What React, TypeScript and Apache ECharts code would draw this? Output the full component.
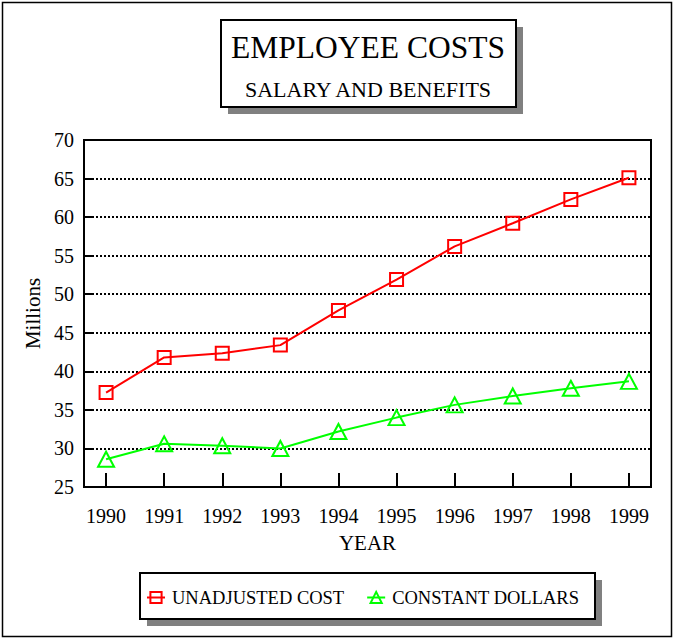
import React, { useEffect, useRef } from "react";
import * as echarts from "echarts";

const years = [1990, 1991, 1992, 1993, 1994, 1995, 1996, 1997, 1998, 1999];
const unadjustedCost = [37.25, 41.8, 42.35, 43.4, 47.9, 51.9, 56.2, 59.2, 62.3, 65.1];
const constantDollars = [28.6, 30.6, 30.35, 30.0, 32.2, 34.0, 35.65, 36.8, 37.8, 38.7];
const seriesNames = ["UNADJUSTED COST", "CONSTANT DOLLARS"];
const titleText = "EMPLOYEE COSTS";
const subtitleText = "SALARY AND BENEFITS";

const FONT = "'Liberation Serif', 'Times New Roman', serif";

export default function App() {
  const ref = useRef<HTMLDivElement>(null);
  useEffect(() => {
    if (!ref.current) return;
    const chart = echarts.init(ref.current, null, { renderer: "svg" });
    chart.setOption({
      animation: false,
      backgroundColor: "#fff",
      textStyle: { fontFamily: FONT, color: "#000" },
      graphic: [
        { type: "rect", shape: { x: 2.5, y: 2.5, width: 669, height: 634 }, style: { fill: "none", stroke: "#000", lineWidth: 1.5 }, z: 0 },
        { type: "rect", shape: { x: 228, y: 27, width: 295, height: 87 }, style: { fill: "#808080" }, z: 1 },
        { type: "rect", shape: { x: 221, y: 20, width: 295, height: 87 }, style: { fill: "#fff", stroke: "#000", lineWidth: 2 }, z: 2 },
        { type: "text", x: 368, y: 47, z: 3, style: { text: titleText, font: `31.5px ${FONT}`, fill: "#000", textAlign: "center", textVerticalAlign: "middle" } },
        { type: "text", x: 368, y: 89, z: 3, style: { text: subtitleText, font: `22px ${FONT}`, fill: "#000", textAlign: "center", textVerticalAlign: "middle" } },
        { type: "rect", shape: { x: 147, y: 580, width: 455, height: 46 }, style: { fill: "#808080" }, z: 1 },
        { type: "rect", shape: { x: 140, y: 573, width: 455, height: 46 }, style: { fill: "#fff", stroke: "#000", lineWidth: 2 }, z: 2 },
      ],
      legend: {
        left: 146,
        top: 588,
        itemWidth: 18,
        itemHeight: 14,
        itemGap: 22,
        padding: 0,
        z: 5,
        textStyle: { fontFamily: FONT, fontSize: 18.5, color: "#000", padding: [0, 0, 0, 2] },
        data: seriesNames,
      },
      grid: {
        left: 84,
        top: 140,
        right: 24,
        bottom: 152,
        show: true,
        borderColor: "#000",
        borderWidth: 2,
        containLabel: false,
      },
      xAxis: {
        type: "value",
        min: 1989.62,
        max: 1999.38,
        name: "YEAR",
        nameLocation: "middle",
        nameGap: 45,
        nameTextStyle: { fontFamily: FONT, fontSize: 21, color: "#000" },
        axisLine: { show: true, lineStyle: { color: "#000", width: 2 } },
        axisTick: { show: true, inside: true, length: 14, customValues: years, lineStyle: { color: "#000", width: 2 } },
        axisLabel: { customValues: years, margin: 19, fontFamily: FONT, fontSize: 20, color: "#000", formatter: (v: number) => String(v) },
        splitLine: { show: false },
      },
      yAxis: {
        type: "value",
        min: 25,
        max: 70,
        interval: 5,
        name: "Millions",
        nameLocation: "middle",
        nameRotate: 90,
        nameGap: 36,
        nameTextStyle: { fontFamily: FONT, fontSize: 21, color: "#000" },
        axisLine: { show: true, lineStyle: { color: "#000", width: 2 } },
        axisTick: { show: true, inside: true, length: 8, lineStyle: { color: "#000", width: 2 } },
        axisLabel: { margin: 10, fontFamily: FONT, fontSize: 20, color: "#000" },
        splitLine: { show: true, showMinLine: false, showMaxLine: false, lineStyle: { color: "#000", width: 2, type: [2, 2] } },
      },
      series: [
        {
          name: seriesNames[0],
          type: "line",
          data: years.map((y, i) => [y, unadjustedCost[i]]),
          symbol: "rect",
          symbolSize: 13,
          lineStyle: { color: "#ff0000", width: 2 },
          itemStyle: { color: "rgba(0,0,0,0)", borderColor: "#ff0000", borderWidth: 2 },
          z: 4,
        },
        {
          name: seriesNames[1],
          type: "line",
          data: years.map((y, i) => [y, constantDollars[i]]),
          symbol: "triangle",
          symbolSize: [16, 15],
          lineStyle: { color: "#00ff00", width: 2 },
          itemStyle: { color: "rgba(0,0,0,0)", borderColor: "#00ff00", borderWidth: 2 },
          z: 4,
        },
      ],
    });
    return () => chart.dispose();
  }, []);
  return <div ref={ref} style={{ position: "absolute", left: 0, top: 0, width: 675, height: 639 }} />;
}
